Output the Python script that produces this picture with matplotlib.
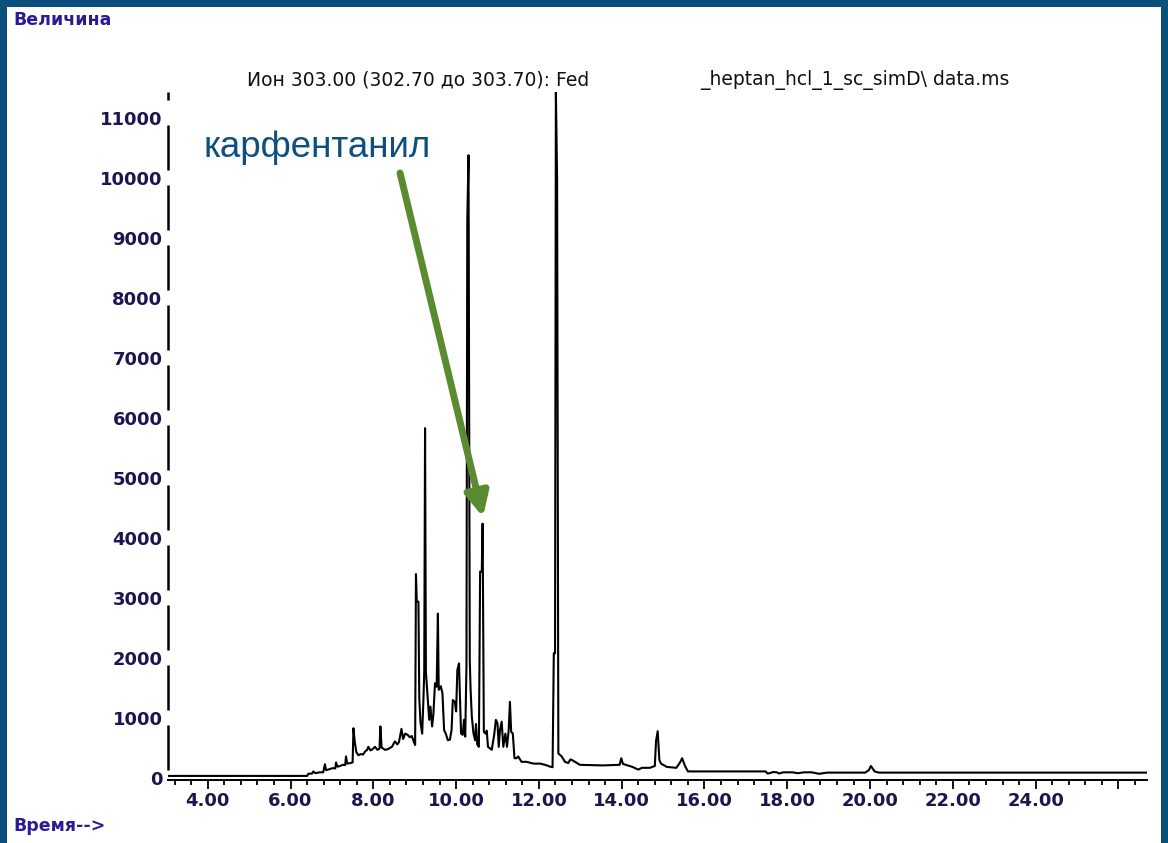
import matplotlib
matplotlib.use("Agg")
import matplotlib.pyplot as plt
from matplotlib.patches import Rectangle
from matplotlib.ticker import MultipleLocator, FixedLocator
import numpy as np

# время удерживания, мин
time_min = [3.05, 6.40, 6.43, 6.52, 6.55, 6.60, 6.70, 6.79, 6.83, 6.86, 6.95, 7.02, 7.08, 7.10, 7.13, 7.20,
            7.26, 7.32, 7.34, 7.37, 7.45, 7.50, 7.52, 7.55, 7.59, 7.64, 7.70, 7.75, 7.80, 7.85, 7.88, 7.93,
            7.98, 8.04, 8.10, 8.15, 8.17, 8.20, 8.28, 8.35, 8.45, 8.52, 8.58, 8.62, 8.68, 8.72, 8.77, 8.83,
            8.88, 8.93, 8.98, 9.01, 9.03, 9.05, 9.09, 9.11, 9.14, 9.18, 9.21, 9.23, 9.25, 9.27, 9.31, 9.35,
            9.38, 9.42, 9.45, 9.49, 9.53, 9.56, 9.58, 9.63, 9.67, 9.71, 9.75, 9.80, 9.85, 9.89, 9.92, 9.97,
            10.00, 10.03, 10.07, 10.09, 10.12, 10.16, 10.19, 10.22, 10.25, 10.27, 10.30, 10.33, 10.35, 10.38,
            10.42, 10.46, 10.48, 10.51, 10.55, 10.58, 10.62, 10.64, 10.67, 10.71, 10.74, 10.77, 10.86, 10.92,
            10.96, 11.00, 11.03, 11.06, 11.10, 11.14, 11.19, 11.23, 11.27, 11.30, 11.33, 11.37, 11.41, 11.46,
            11.50, 11.58, 11.70, 11.87, 12.03, 12.15, 12.27, 12.33, 12.36, 12.39, 12.41, 12.44, 12.47, 12.55,
            12.63, 12.71, 12.76, 12.80, 12.87, 12.99, 13.54, 13.95, 13.99, 14.03, 14.26, 14.40, 14.49, 14.68,
            14.80, 14.83, 14.87, 14.91, 14.95, 15.09, 15.32, 15.41, 15.46, 15.53, 15.60, 17.48, 17.52, 17.57,
            17.66, 17.75, 17.80, 17.90, 18.12, 18.26, 18.40, 18.59, 18.77, 18.96, 19.88, 19.97, 20.02, 20.11,
            20.21, 26.68]
# величина сигнала иона 303
abundance = [35, 35, 70, 75, 110, 80, 95, 95, 230, 130, 150, 165, 160, 260, 190, 200,
             220, 215, 360, 240, 250, 260, 830, 610, 430, 380, 400, 390, 440, 470, 520, 460,
             480, 520, 470, 490, 860, 510, 470, 480, 520, 610, 560, 600, 820, 650, 740, 720,
             680, 700, 600, 550, 3400, 2940, 2940, 1330, 920, 740, 1300, 1770, 5830, 1770, 1360, 970,
             1190, 860, 1050, 1580, 1520, 2740, 1470, 1530, 1410, 800, 740, 630, 640, 800, 1300, 1270,
             1110, 1800, 1910, 1410, 740, 720, 970, 690, 1860, 9300, 10380, 1970, 1470, 1020,
             740, 630, 900, 560, 520, 3440, 3440, 4240, 770, 740, 790, 520, 470, 720,
             970, 910, 520, 800, 940, 520, 740, 520, 800, 1270, 770, 740, 330, 330,
             360, 270, 270, 240, 240, 220, 190, 180, 2080, 2080, 11450, 9980, 410, 360,
             270, 250, 310, 300, 270, 220, 210, 220, 330, 235, 185, 140, 170, 170,
             200, 620, 780, 300, 240, 185, 170, 260, 330, 200, 110, 110, 75, 80,
             100, 95, 75, 95, 95, 80, 95, 95, 70, 90, 90, 130, 200, 110,
             90, 90]

y_ticks = list(range(0, 11001, 1000))
x_ticks = [4, 6, 8, 10, 12, 14, 16, 18, 20, 22, 24, 26]
x_labels = ["4.00", "6.00", "8.00", "10.00", "12.00", "14.00", "16.00", "18.00", "20.00", "22.00", "24.00", ""]

title_left = "Ион 303.00 (302.70 до 303.70): Fed"
title_right = "_heptan_hcl_1_sc_simD\\ data.ms"

W, H = 1168, 843
fig = plt.figure(figsize=(W / 100, H / 100), dpi=100)
fig.patch.set_facecolor("#0b507d")
# белое поле внутри синей рамки
fig.patches.append(Rectangle((7 / W, 0), (1161 - 7) / W, (843 - 7) / H, transform=fig.transFigure,
                             facecolor="white", edgecolor="none", zorder=-5))

ax = fig.add_axes([168 / W, 1 - 780 / H, (1147 - 168) / W, (780 - 92) / H])
ax.set_zorder(2)
ax.patch.set_alpha(0)
ax.plot(time_min, abundance, color="black", lw=1.5, clip_on=True)

ax.set_xlim(3.04, 26.69)
ax.set_ylim(-33, 11433)

for s in ["top", "right", "left"]:
    ax.spines[s].set_visible(False)
ax.spines["bottom"].set_linewidth(1.4)

lab_col = "#1b1650"
ax.xaxis.set_major_locator(FixedLocator(x_ticks))
ax.set_xticklabels(x_labels)
ax.xaxis.set_minor_locator(MultipleLocator(0.4))
ax.tick_params(axis="x", which="major", direction="out", length=6.5, width=1.3, pad=2,
               labelsize=13, labelcolor=lab_col)
ax.tick_params(axis="x", which="minor", direction="out", length=3.3, width=1.3)
for t in ax.get_xticklabels():
    t.set_fontweight("bold")

ax.set_yticks(y_ticks)
ax.set_yticklabels([str(v) for v in y_ticks])
ax.tick_params(axis="y", length=0, pad=4, labelsize=13, labelcolor=lab_col)
for t in ax.get_yticklabels():
    t.set_fontweight("bold")

# ось Y рисуется отрезками с разрывами у подписей
lows = [v + 140 for v in y_ticks]
highs = [v + 880 for v in y_ticks]
lows[-1] = 11300
highs[-1] = 11433
ax.vlines([0] * len(lows), lows, highs, transform=ax.get_yaxis_transform(), color="black",
          lw=1.8, clip_on=False)

fig.text(247 / W, 1 - 80 / H, title_left, fontsize=13.5, color="#111111", va="center", ha="left")
fig.text(700 / W, 1 - 80 / H, title_right, fontsize=13.5, color="#111111", va="center", ha="left")
fig.text(13 / W, 1 - 20 / H, "Величина", fontsize=12.5, fontweight="bold", color="#2a1c92",
         va="center", ha="left")
fig.text(13 / W, 1 - 826 / H, "Время-->", fontsize=12.5, fontweight="bold", color="#2a1c92",
         va="center", ha="left")

# подпись пика и стрелка
ax.text(3.89, 10500, "карфентанил", fontsize=26.5, family=["Liberation Sans", "DejaVu Sans"],
        color="#0d5080", va="center", ha="left")
ax.annotate("", xy=(10.65, 4350), xytext=(8.645, 10083),
            arrowprops=dict(arrowstyle="-|>,head_length=0.65,head_width=0.32", color="#5a8b31",
                            lw=5, mutation_scale=22, shrinkA=0, shrinkB=0))

fig.savefig("out.png", dpi=100, facecolor=fig.get_facecolor())
